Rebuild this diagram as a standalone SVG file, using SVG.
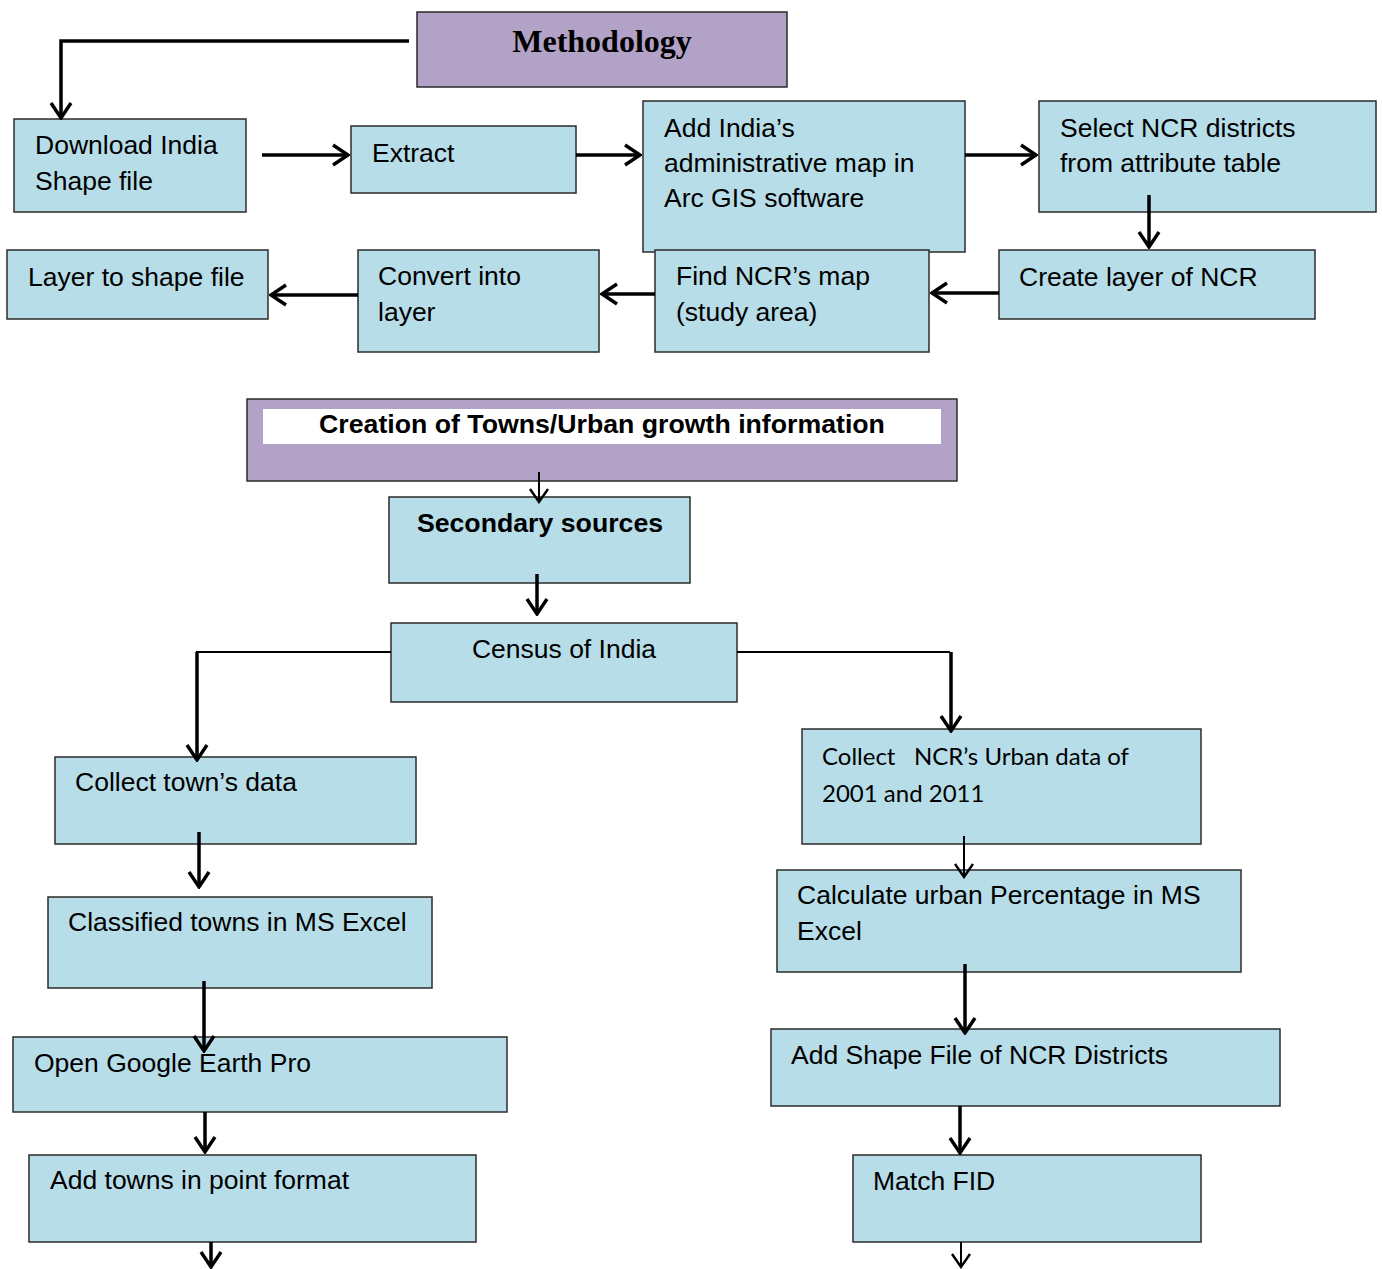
<svg xmlns="http://www.w3.org/2000/svg" width="1382" height="1269" viewBox="0 0 1382 1269">
<defs>
<style>
.box{fill:#b7dde8;stroke:#2b2b2b;stroke-width:1.5}
.hdr{fill:#b3a2c7;stroke:#2b2b2b;stroke-width:1.5}
.t{font-family:"Liberation Sans",Arial,sans-serif;font-size:26.5px;fill:#000}
.b{font-family:"Liberation Sans",Arial,sans-serif;font-size:26.7px;font-weight:bold;fill:#000}
.c{font-family:Lato,"Open Sans",sans-serif;font-size:24px;fill:#000}
.ln{fill:none;stroke:#000;stroke-width:3.5}
.thin{fill:none;stroke:#000;stroke-width:2}
</style>
<marker id="a" viewBox="-18 -12 20 24" refX="0" refY="0" markerWidth="20" markerHeight="24" markerUnits="userSpaceOnUse" orient="auto">
<polyline points="-15,-10 0,0 -15,10" fill="none" stroke="#000" stroke-width="3.4"/>
</marker>
<marker id="at" viewBox="-18 -12 20 24" refX="0" refY="0" markerWidth="20" markerHeight="24" markerUnits="userSpaceOnUse" orient="auto">
<polyline points="-13,-9 0,0 -13,9" fill="none" stroke="#000" stroke-width="2.4"/>
</marker>
</defs>
<rect width="1382" height="1269" fill="#fff"/>

<g id="methodology">
<rect class="hdr" x="417" y="12" width="370" height="75"/>
<text x="602" y="52" text-anchor="middle" font-family="'Liberation Serif','Times New Roman',serif" font-size="32" font-weight="bold">Methodology</text>
</g>
<g id="download">
<rect class="box" x="14" y="119" width="232" height="93"/>
<text class="t" x="35" y="154">Download India</text>
<text class="t" x="35" y="190">Shape file</text>
</g>
<g id="extract">
<rect class="box" x="351" y="126" width="225" height="67"/>
<text class="t" x="372" y="162">Extract</text>
</g>
<g id="add-india">
<rect class="box" x="643" y="101" width="322" height="151"/>
<text class="t" x="664" y="137">Add India’s</text>
<text class="t" x="664" y="172">administrative map in</text>
<text class="t" x="664" y="207">Arc GIS software</text>
</g>
<g id="select-ncr">
<rect class="box" x="1039" y="101" width="337" height="111"/>
<text class="t" x="1060" y="137">Select NCR districts</text>
<text class="t" x="1060" y="172">from attribute table</text>
</g>
<g id="create-layer">
<rect class="box" x="999" y="250" width="316" height="69"/>
<text class="t" x="1019" y="286">Create layer of NCR</text>
</g>
<g id="find-ncr">
<rect class="box" x="655" y="250" width="274" height="102"/>
<text class="t" x="676" y="285">Find NCR’s map</text>
<text class="t" x="676" y="321">(study area)</text>
</g>
<g id="convert">
<rect class="box" x="358" y="250" width="241" height="102"/>
<text class="t" x="378" y="285">Convert into</text>
<text class="t" x="378" y="321">layer</text>
</g>
<g id="layer-shape">
<rect class="box" x="7" y="250" width="261" height="69"/>
<text class="t" x="28" y="286">Layer to shape file</text>
</g>

<g id="creation">
<rect class="hdr" x="247" y="399" width="710" height="82"/>
<rect x="263" y="409" width="678" height="35" fill="#fff"/>
<text class="b" x="602" y="433" text-anchor="middle">Creation of Towns/Urban growth information</text>
</g>
<g id="secondary">
<rect class="box" x="389" y="497" width="301" height="86"/>
<text class="b" x="540" y="532" text-anchor="middle">Secondary sources</text>
</g>
<g id="census">
<rect class="box" x="391" y="623" width="346" height="79"/>
<text class="t" x="564" y="658" text-anchor="middle">Census of India</text>
</g>
<g id="collect-town">
<rect class="box" x="55" y="757" width="361" height="87"/>
<text class="t" x="75" y="791">Collect town’s data</text>
</g>
<g id="classified">
<rect class="box" x="48" y="897" width="384" height="91"/>
<text class="t" x="68" y="931">Classified towns in MS Excel</text>
</g>
<g id="google-earth">
<rect class="box" x="13" y="1037" width="494" height="75"/>
<text class="t" x="34" y="1072">Open Google Earth Pro</text>
</g>
<g id="add-towns">
<rect class="box" x="29" y="1155" width="447" height="87"/>
<text class="t" x="50" y="1189">Add towns in point format</text>
</g>
<g id="collect-ncr">
<rect class="box" x="802" y="729" width="399" height="115"/>
<text class="c" x="822" y="765" xml:space="preserve">Collect   NCR’s Urban data of</text>
<text class="c" x="822" y="802">2001 and 2011</text>
</g>
<g id="calculate">
<rect class="box" x="777" y="870" width="464" height="102"/>
<text class="t" x="797" y="904">Calculate urban Percentage in MS</text>
<text class="t" x="797" y="940">Excel</text>
</g>
<g id="add-shape">
<rect class="box" x="771" y="1029" width="509" height="77"/>
<text class="t" x="791" y="1064">Add Shape File of NCR Districts</text>
</g>
<g id="match-fid">
<rect class="box" x="853" y="1155" width="348" height="87"/>
<text class="t" x="873" y="1190">Match FID</text>
</g>

<g id="connectors">
<path class="ln" d="M409,41 H61 V118" marker-end="url(#a)"/>
<path class="ln" d="M262,155 H348" marker-end="url(#a)"/>
<path class="ln" d="M576,155 H640" marker-end="url(#a)"/>
<path class="ln" d="M965,155 H1036" marker-end="url(#a)"/>
<path class="ln" d="M1149,195 V247" marker-end="url(#a)"/>
<path class="ln" d="M999,293 H932" marker-end="url(#a)"/>
<path class="ln" d="M655,294 H602" marker-end="url(#a)"/>
<path class="ln" d="M358,295 H271" marker-end="url(#a)"/>
<path class="thin" d="M539,472 V502" marker-end="url(#at)"/>
<path class="ln" d="M537,574 V614" marker-end="url(#a)"/>
<path class="thin" d="M391,652 H196"/>
<path class="ln" d="M197,652 V760" marker-end="url(#a)"/>
<path class="thin" d="M737,652 H950"/>
<path class="ln" d="M951,652 V731" marker-end="url(#a)"/>
<path class="ln" d="M199,832 V887" marker-end="url(#a)"/>
<path class="ln" d="M204,981 V1051" marker-end="url(#a)"/>
<path class="ln" d="M205,1112 V1152" marker-end="url(#a)"/>
<path class="ln" d="M211,1242 V1267" marker-end="url(#a)"/>
<path class="thin" d="M964,836 V877" marker-end="url(#at)"/>
<path class="ln" d="M965,964 V1033" marker-end="url(#a)"/>
<path class="ln" d="M960,1106 V1153" marker-end="url(#a)"/>
<path class="thin" d="M961,1242 V1267" marker-end="url(#at)"/>
</g>
</svg>
